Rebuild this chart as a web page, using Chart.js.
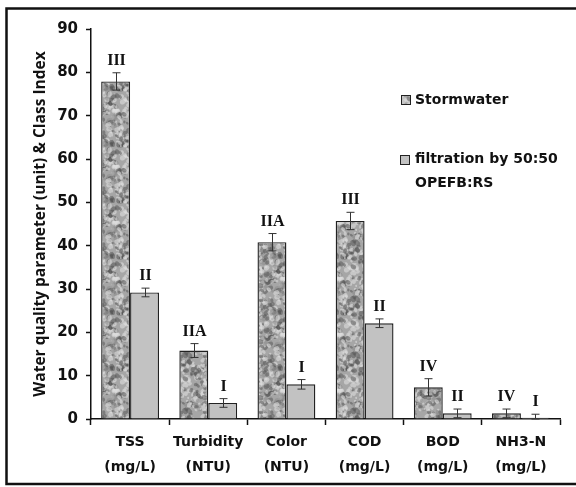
<!DOCTYPE html>
<html>
<head>
<meta charset="utf-8">
<script src="https://cdn.jsdelivr.net/npm/chart.js@4"></script>
<style>
  html, body { margin: 0; padding: 0; background: #fff; }
  #wrap { width: 576px; height: 487px; position: relative; }
</style>
</head>
<body>
<div id="wrap"><canvas id="chart" width="576" height="487"></canvas></div>
<script>
// Data
const categories = [['TSS', '(mg/L)'], ['Turbidity', '(NTU)'], ['Color', '(NTU)'], ['COD', '(mg/L)'], ['BOD', '(mg/L)'], ['NH3-N', '(mg/L)']];
const stormwater = [77.9, 15.8, 40.8, 45.7, 7.3, 1.3];
const stormwaterErr = [2.0, 1.6, 2.0, 2.0, 2.0, 1.0];
const stormwaterClass = ['III', 'IIA', 'IIA', 'III', 'IV', 'IV'];
const filtration = [29.2, 3.7, 8.0, 22.1, 1.3, 0.3];
const filtrationErr = [1.0, 1.0, 1.1, 1.0, 1.0, 0.8];
const filtrationClass = ['II', 'I', 'I', 'II', 'II', 'I'];
const yTicks = [0, 10, 20, 30, 40, 50, 60, 70, 80, 90];

// mottled grey pattern for the stormwater bars (seeded so it is the same every run)
function granitePattern(ctx) {
  const c = document.createElement('canvas');
  c.width = 56; c.height = 56;
  const g = c.getContext('2d');
  g.fillStyle = '#a6a6a6';
  g.fillRect(0, 0, 56, 56);
  let s = 4242;
  const rnd = () => { s = (s * 1103515245 + 12345) & 0x7fffffff; return s / 0x7fffffff; };
  for (let i = 0; i < 300; i++) {
    const x = rnd() * 56, y = rnd() * 56, r = 0.9 + rnd() * 1.6;
    const t = rnd();
    g.fillStyle = t < 0.42 ? 'rgba(80,80,80,0.5)' : (t < 0.82 ? 'rgba(222,222,222,0.6)' : 'rgba(140,140,140,0.55)');
    for (const dx of [-56, 0, 56]) for (const dy of [-56, 0, 56]) {
      g.beginPath(); g.ellipse(x + dx, y + dy, r * 1.3, r, rnd() * Math.PI, 0, Math.PI * 2); g.fill();
    }
  }
  return ctx.createPattern(c, 'repeat');
}

const canvas = document.getElementById('chart');
const granite = granitePattern(canvas.getContext('2d'));
const LABEL_FONT = 'DejaVu Sans';

const overlay = {
  id: 'overlay',
  afterDatasetsDraw(chart) {
    const { ctx, scales: { y } } = chart;
    const sets = [
      { err: stormwaterErr, cls: stormwaterClass, vals: stormwater },
      { err: filtrationErr, cls: filtrationClass, vals: filtration },
    ];
    sets.forEach((s, di) => {
      chart.getDatasetMeta(di).data.forEach((bar, i) => {
        const x = Math.round(bar.x) + 0.5;
        const top = y.getPixelForValue(s.vals[i] + s.err[i]);
        const bot = y.getPixelForValue(Math.max(0, s.vals[i] - s.err[i]));
        ctx.save();
        ctx.strokeStyle = '#333';
        ctx.lineWidth = 1;
        ctx.beginPath();
        ctx.moveTo(x, top); ctx.lineTo(x, bot);
        ctx.moveTo(x - 4, top); ctx.lineTo(x + 4, top);
        ctx.moveTo(x - 4, bot); ctx.lineTo(x + 4, bot);
        ctx.stroke();
        ctx.fillStyle = '#111';
        ctx.font = 'bold 16px "Liberation Serif", serif';
        ctx.textAlign = 'center';
        ctx.fillText(s.cls[i], x, top - 8);
        ctx.restore();
      });
    });
  },
  afterDraw(chart) {
    const ctx = chart.ctx;
    ctx.save();
    // legend
    ctx.font = 'bold 14px "' + LABEL_FONT + '", sans-serif';
    ctx.textBaseline = 'middle';
    ctx.textAlign = 'left';
    ctx.strokeStyle = '#222'; ctx.lineWidth = 1;
    ctx.fillStyle = granite;
    ctx.fillRect(401, 95, 10, 10);
    ctx.strokeRect(401.5, 95.5, 9, 9);
    ctx.fillStyle = '#111';
    ctx.fillText('Stormwater', 415, 100);
    ctx.fillStyle = '#c2c2c2';
    ctx.fillRect(400, 155, 10, 10);
    ctx.strokeRect(400.5, 155.5, 9, 9);
    ctx.fillStyle = '#111';
    ctx.fillText('filtration by 50:50', 415, 159);
    ctx.fillText('OPEFB:RS', 415, 183);
    // outer frame
    ctx.strokeStyle = '#111';
    ctx.lineWidth = 2.5;
    ctx.beginPath();
    ctx.moveTo(580, 8.5); ctx.lineTo(6.5, 8.5); ctx.lineTo(6.5, 484); ctx.lineTo(580, 484);
    ctx.stroke();
    ctx.restore();
  }
};

new Chart(canvas, {
  type: 'bar',
  data: {
    labels: categories,
    datasets: [
      { label: 'Stormwater', data: stormwater, backgroundColor: granite, borderColor: '#222', borderWidth: 1.4,
        categoryPercentage: 0.74, barPercentage: 1.0 },
      { label: 'filtration by 50:50 OPEFB:RS', data: filtration, backgroundColor: '#c2c2c2', borderColor: '#222', borderWidth: 1.4,
        categoryPercentage: 0.74, barPercentage: 1.0 },
    ],
  },
  options: {
    responsive: false,
    animation: false,
    layout: { padding: { left: 0, right: 16, top: 29, bottom: 0 } },
    plugins: { legend: { display: false }, tooltip: { enabled: false } },
    scales: {
      x: {
        afterFit: (axis) => { axis.height = 68; },
        grid: { offset: true, drawOnChartArea: false, tickLength: 6, color: '#111', tickWidth: 1.5 },
        border: { color: '#111', width: 1.5 },
        ticks: { color: '#111', font: { family: LABEL_FONT, weight: 'bold', size: 14, lineHeight: 1.78 }, padding: 5, maxRotation: 0 },
      },
      y: {
        min: 0, max: 90,
        afterFit: (axis) => { axis.width = 91; },
        afterBuildTicks: (axis) => { axis.ticks = yTicks.map(v => ({ value: v })); },
        grid: { drawOnChartArea: false, tickLength: 5, color: '#111', tickWidth: 1.5 },
        border: { color: '#111', width: 1.5 },
        ticks: { color: '#111', font: { family: LABEL_FONT, weight: 'bold', size: 15 }, padding: 8 },
        title: { display: true, text: 'Water quality parameter (unit) & Class Index', color: '#111',
          font: { family: 'Open Sans', weight: 'bold', size: 15.5 }, padding: { top: 31.5, bottom: 0 } },
      },
    },
  },
  plugins: [overlay],
});
</script>
</body>
</html>
